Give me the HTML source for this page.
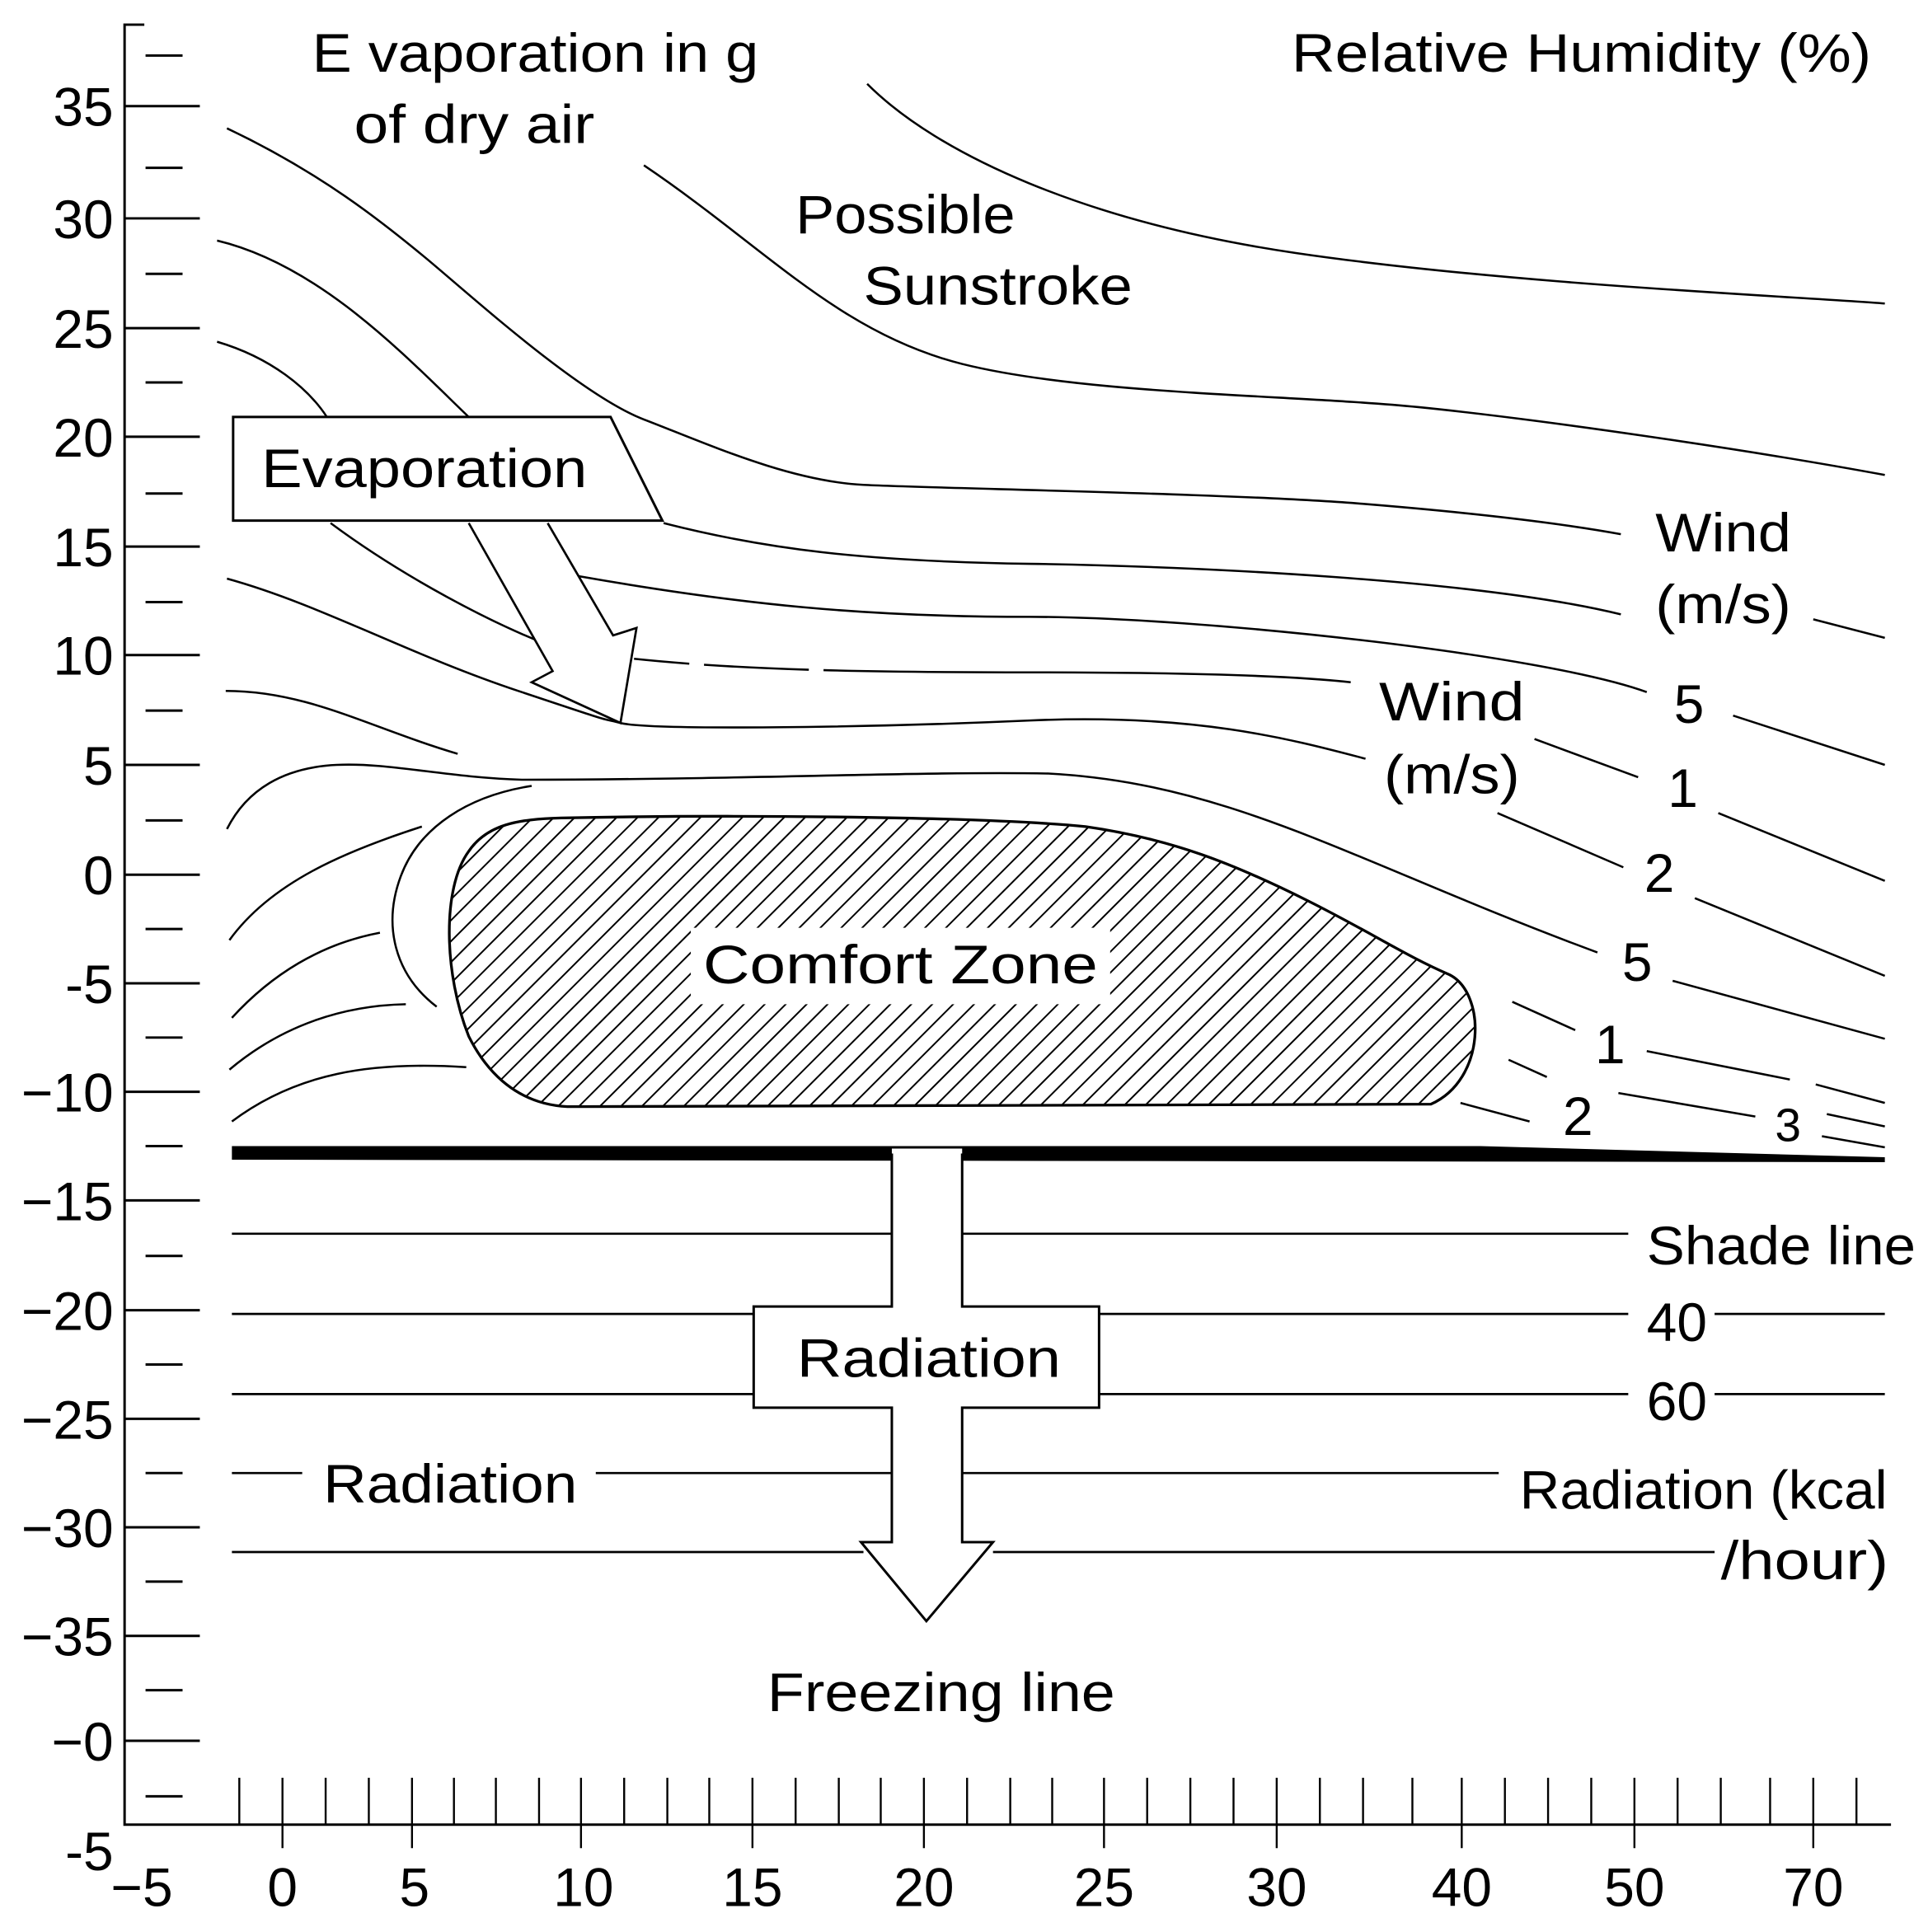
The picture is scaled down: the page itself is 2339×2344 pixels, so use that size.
<!DOCTYPE html>
<html><head><meta charset="utf-8"><style>html,body{margin:0;padding:0;background:#fff}svg{display:block}</style></head>
<body>
<svg width="2339" height="2344" viewBox="0 0 1563 1566" preserveAspectRatio="none" xmlns="http://www.w3.org/2000/svg" font-family="Liberation Sans, sans-serif">
<defs>
<pattern id="h" width="12" height="12" patternUnits="userSpaceOnUse" patternTransform="rotate(-45)"><line x1="0" y1="6" x2="12" y2="6" stroke="#000" stroke-width="1.3"/></pattern>
</defs>
<rect width="1563" height="1566" fill="#fff"/>
<g stroke="#000" stroke-width="2" fill="none">
<path d="M117,20 L101,20 L101,1479 L1533,1479"/>
<path d="M101,86H162 M101,177H162 M101,266H162 M101,354H162 M101,443H162 M101,531H162 M101,620H162 M101,709H162 M101,797H162 M101,885H162 M101,973H162 M101,1062H162 M101,1150H162 M101,1238H162 M101,1326H162 M101,1411H162"/>
<path d="M118,45H148 M118,136H148 M118,222H148 M118,310H148 M118,400H148 M118,488H148 M118,576H148 M118,665H148 M118,753H148 M118,841H148 M118,929H148 M118,1018H148 M118,1106H148 M118,1194H148 M118,1282H148 M118,1370H148 M118,1456H148"/>
</g>
<g stroke="#000" stroke-width="1.6">
<path d="M194,1441V1479 M229,1441V1498 M264,1441V1479 M299,1441V1479 M334,1441V1498 M368,1441V1479 M402,1441V1479 M437,1441V1479 M471,1441V1498 M506,1441V1479 M541,1441V1479 M575,1441V1479 M610,1441V1498 M645,1441V1479 M680,1441V1479 M714,1441V1479 M749,1441V1498 M784,1441V1479 M819,1441V1479 M853,1441V1479 M895,1441V1498 M930,1441V1479 M965,1441V1479 M1000,1441V1479 M1035,1441V1498 M1070,1441V1479 M1105,1441V1479 M1145,1441V1479 M1185,1441V1498 M1220,1441V1479 M1255,1441V1479 M1290,1441V1479 M1325,1441V1498 M1360,1441V1479 M1395,1441V1479 M1435,1441V1479 M1470,1441V1498 M1505,1441V1479"/>
</g>
<g font-size="44" text-anchor="end" fill="#000">
<text x="92" y="102">35</text><text x="92" y="193">30</text><text x="92" y="282">25</text><text x="92" y="370">20</text><text x="92" y="459">15</text><text x="92" y="547">10</text><text x="92" y="636">5</text><text x="92" y="725">0</text><text x="92" y="813">-5</text><text x="92" y="901">−10</text><text x="92" y="989">−15</text><text x="92" y="1078">−20</text><text x="92" y="1166">−25</text><text x="92" y="1254">−30</text><text x="92" y="1342">−35</text><text x="92" y="1427">−0</text><text x="92" y="1516">-5</text>
</g>
<g font-size="44" text-anchor="middle" fill="#000">
<text x="115" y="1545">−5</text><text x="229" y="1545">0</text><text x="336" y="1545">5</text><text x="473" y="1545">10</text><text x="610" y="1545">15</text><text x="749" y="1545">20</text><text x="895" y="1545">25</text><text x="1035" y="1545">30</text><text x="1185" y="1545">40</text><text x="1325" y="1545">50</text><text x="1470" y="1545">70</text>
</g>
<g stroke="#000" stroke-width="1.7" fill="none">
<path d="M703,68 C760,125 880,180 1050,205 S1450,240 1528,246"/>
<path d="M522,134 C620,200 680,270 780,295 S1050,320 1150,330 S1420,365 1528,385"/>
<path d="M184,104 C260,140 310,180 345,209 S470,320 522,340 S640,390 700,393 S1000,400 1100,408 S1270,425 1314,433"/>
<path d="M176,195 C260,215 330,290 380,338"/>
<path d="M538,424 C620,445 700,455 835,457 S1200,470 1314,498 M1470,502 L1528,517"/>
<path d="M176,277 C220,290 250,315 265,338"/>
<path d="M268,424 C330,470 400,505 440,521"/>
<path d="M469,467 C600,490 700,500 835,500 S1250,530 1335,561 M1405,580 L1528,620"/>
<path d="M514,534 C600,543 700,545 835,545 S1050,548 1095,553" stroke-dasharray="45 12 85 12 2000"/>
<path d="M1244,599 L1328,630 M1393,659 L1528,714"/>
<path d="M184,469 C260,490 330,530 420,560 S480,580 503,586 S700,590 835,584 S1050,600 1107,615 M1214,659 L1316,703 M1374,728 L1528,791"/>
<path d="M183,560 C250,560 300,590 371,611"/>
<path d="M184,672 C200,640 230,622 273,620 S360,630 423,632 C600,632 750,625 850,627 C1000,635 1100,700 1295,772 M1356,795 L1528,842"/>
<path d="M431,637 C380,645 340,670 325,710 S320,790 354,816"/>
<path d="M186,762 C220,715 280,690 342,670 M188,825 C220,790 260,765 308,756 M186,867 C230,830 280,815 329,814 M188,909 C240,870 300,860 378,865"/>
<path d="M1226,812 L1277,835 M1335,852 L1451,875 M1472,879 L1528,894 M1223,859 L1254,873 M1312,886 L1423,905 M1481,903 L1528,913 M1184,894 L1240,909 M1477,921 L1528,930"/>
</g>
<path d="M455,663 C600,660 800,662 880,670 C950,680 1000,700 1060,730 C1110,755 1140,775 1175,790 C1205,805 1205,875 1160,895 L460,897 C420,895 395,870 380,840 C360,790 358,720 380,690 C395,668 420,664 455,663 Z" fill="url(#h)" stroke="#000" stroke-width="2.2"/>
<rect x="560" y="752" width="340" height="62" fill="#fff"/>
<text x="570" y="797" font-size="44" textLength="320" lengthAdjust="spacingAndGlyphs">Comfort Zone</text>
<path d="M188,929 L1200,929 L1528,938 L1528,942 L188,940 Z" fill="#000"/>
<g stroke="#000" stroke-width="1.8">
<path d="M188,1000H723 M780,1000H1320 M188,1065H611 M891,1065H1320 M1390,1065H1528 M188,1130H611 M891,1130H1320 M1390,1130H1528 M188,1194H245 M483,1194H723 M780,1194H1215 M188,1258H700 M805,1258H1390"/>
</g>
<path d="M723,931 L723,1059 L611,1059 L611,1141 L723,1141 L723,1250 L698,1250 L751,1314 L805,1250 L780,1250 L780,1141 L891,1141 L891,1059 L780,1059 L780,931 Z" fill="#fff" stroke="none"/>
<path d="M723,935 L723,1059 L611,1059 L611,1141 L723,1141 L723,1250 L698,1250 L751,1314 L805,1250 L780,1250 L780,1141 L891,1141 L891,1059 L780,1059 L780,935" fill="none" stroke="#000" stroke-width="2"/>
<path d="M189,338 L495,338 L537,422 L189,422 Z" fill="#fff" stroke="#000" stroke-width="2"/>
<path d="M380,424 L448,544 L431,553 L503,586 L516,509 L497,515 L444,424" fill="#fff" stroke="#000" stroke-width="1.8"/>
<g font-size="44" fill="#000">
<text x="253" y="58" textLength="362" lengthAdjust="spacingAndGlyphs">E vaporation in g</text>
<text x="287" y="116" textLength="195" lengthAdjust="spacingAndGlyphs">of dry air</text>
<text x="1047" y="58" textLength="470" lengthAdjust="spacingAndGlyphs">Relative Humidity (%)</text>
<text x="645" y="189" textLength="178" lengthAdjust="spacingAndGlyphs">Possible</text>
<text x="700" y="247" textLength="218" lengthAdjust="spacingAndGlyphs">Sunstroke</text>
<text x="212" y="395" textLength="264" lengthAdjust="spacingAndGlyphs">Evaporation</text>
<text x="1342" y="447" textLength="110" lengthAdjust="spacingAndGlyphs">Wind</text>
<text x="1342" y="505" textLength="110" lengthAdjust="spacingAndGlyphs">(m/s)</text>
<text x="1118" y="584" textLength="118" lengthAdjust="spacingAndGlyphs">Wind</text>
<text x="1122" y="643" textLength="110" lengthAdjust="spacingAndGlyphs">(m/s)</text>
<text x="1357" y="586">5</text>
<text x="1352" y="654">1</text>
<text x="1333" y="723">2</text>
<text x="1315" y="795">5</text>
<text x="1293" y="862">1</text>
<text x="1267" y="920">2</text>
<text x="1439" y="925" font-size="38">3</text>
<text x="1335" y="1025" textLength="218" lengthAdjust="spacingAndGlyphs">Shade line</text>
<text x="1335" y="1087">40</text>
<text x="1335" y="1151">60</text>
<text x="646" y="1116" textLength="214" lengthAdjust="spacingAndGlyphs">Radiation</text>
<text x="262" y="1218" textLength="206" lengthAdjust="spacingAndGlyphs">Radiation</text>
<text x="1232" y="1223" textLength="298" lengthAdjust="spacingAndGlyphs">Radiation (kcal</text>
<text x="1395" y="1280" textLength="136" lengthAdjust="spacingAndGlyphs">/hour)</text>
<text x="622" y="1387" textLength="282" lengthAdjust="spacingAndGlyphs">Freezing line</text>
</g>
</svg>
</body></html>
